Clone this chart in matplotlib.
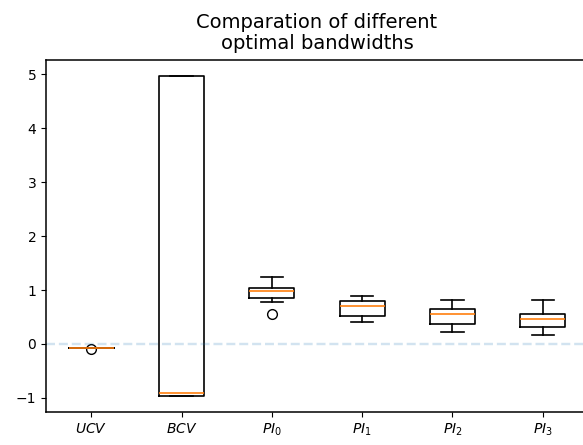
import matplotlib
matplotlib.use("Agg")
import matplotlib.pyplot as plt

# box statistics
labels = ["$UCV$", "$BCV$", "$PI_0$", "$PI_1$", "$PI_2$", "$PI_3$"]
whislo = [-0.07, -0.965, 0.77, 0.41, 0.23, 0.17]
q1s = [-0.07, -0.965, 0.86, 0.52, 0.37, 0.31]
medians = [-0.07, -0.905, 0.98, 0.71, 0.56, 0.47]
q3s = [-0.07, 4.97, 1.03, 0.79, 0.65, 0.56]
whishi = [-0.07, 4.97, 1.25, 0.89, 0.82, 0.82]
fliers = [[-0.10], [], [0.55], [], [], []]

stats = []
for i in range(len(labels)):
    stats.append({"label": labels[i], "whislo": whislo[i], "q1": q1s[i],
                  "med": medians[i], "q3": q3s[i], "whishi": whishi[i],
                  "fliers": fliers[i]})

fig = plt.figure(figsize=(5.83, 4.45), dpi=100)
ax = fig.add_axes([46 / 583, 1 - 412 / 445, 542 / 583, 352 / 445])
lw = 1.2
ax.bxp(stats, widths=0.5,
       boxprops={"linewidth": lw}, whiskerprops={"linewidth": lw},
       capprops={"linewidth": lw}, medianprops={"linewidth": lw, "color": "C1"},
       flierprops={"markersize": 7})
ax.axhline(0, color="C0", alpha=0.2, linestyle="--", linewidth=1.75)
ax.set_title("Comparation of different\noptimal bandwidths", fontsize=14, pad=8,
             linespacing=1.1)
for s in ax.spines.values():
    s.set_linewidth(1.1)

fig.savefig("out.png", dpi=100)
